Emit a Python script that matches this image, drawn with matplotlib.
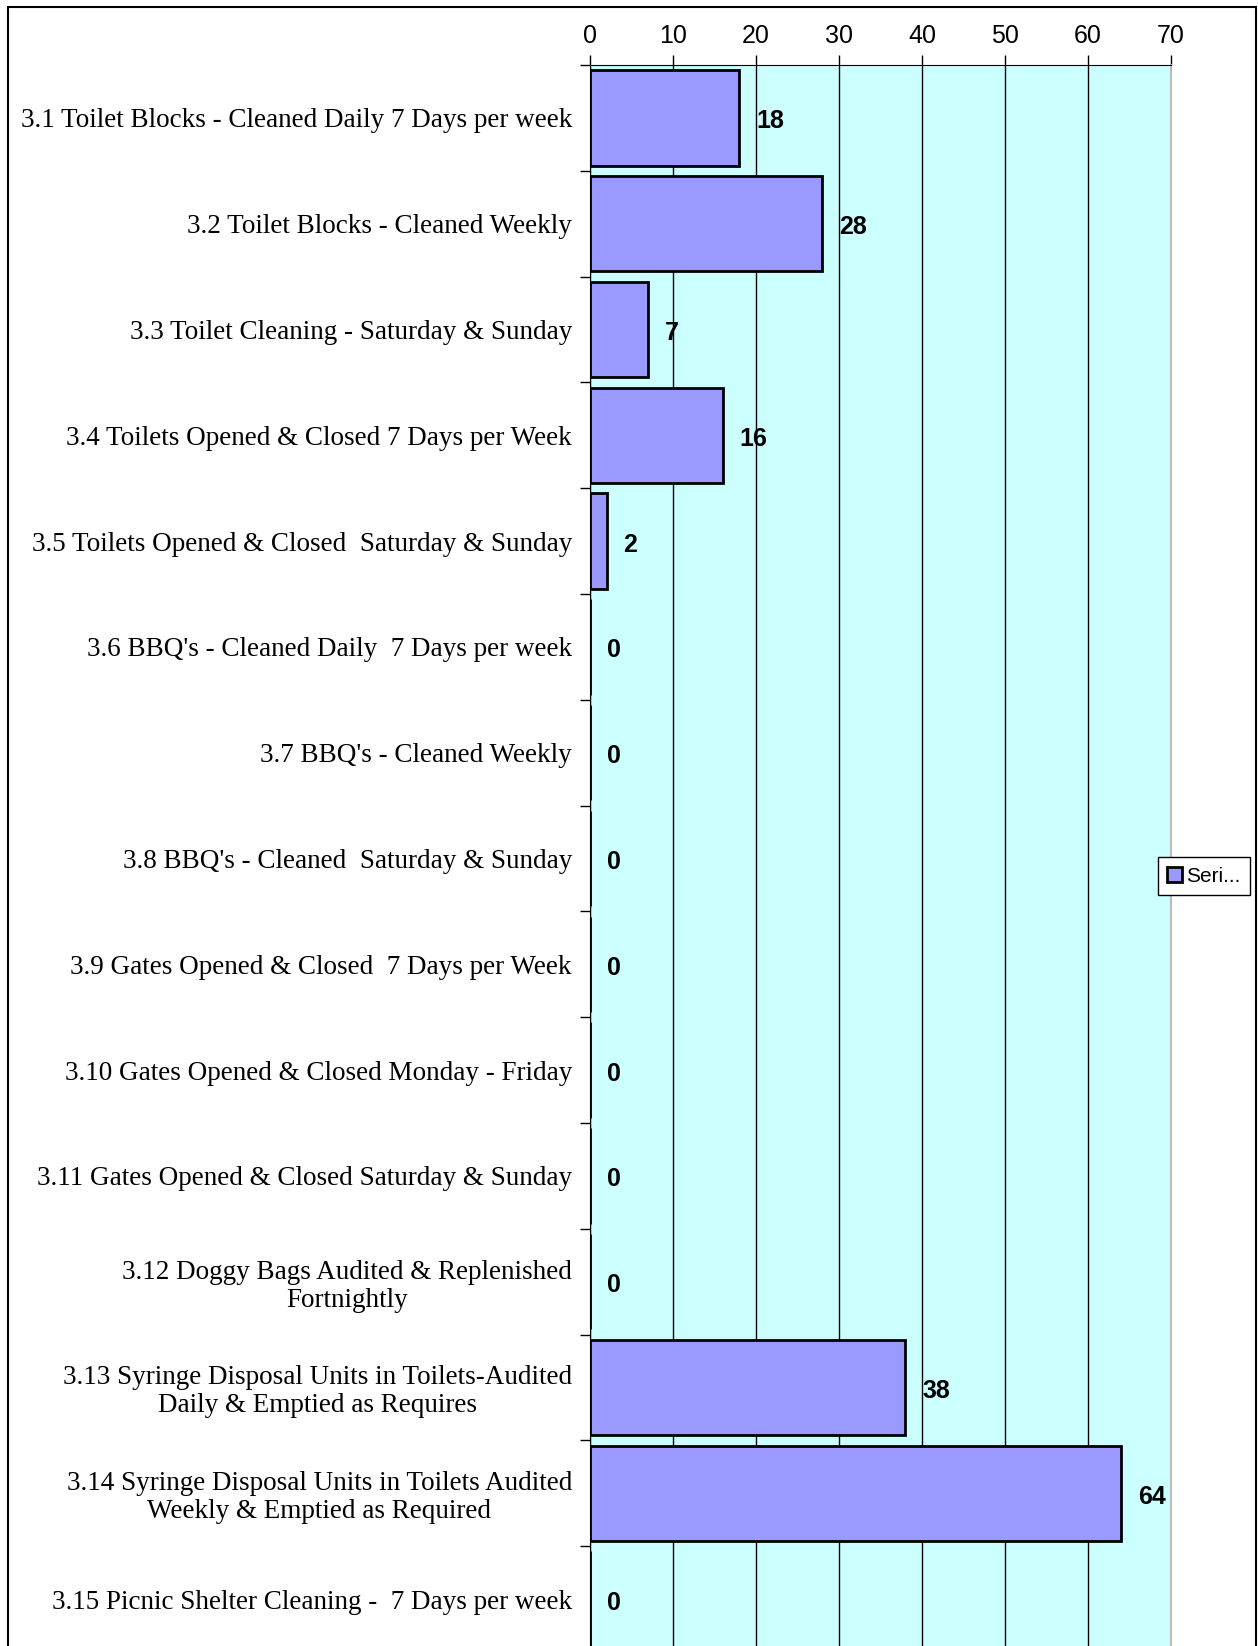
import matplotlib.pyplot as plt
from matplotlib.patches import Rectangle
from matplotlib.ticker import FixedLocator

categories = [
    "3.1 Toilet Blocks - Cleaned Daily 7 Days per week",
    "3.2 Toilet Blocks - Cleaned Weekly",
    "3.3 Toilet Cleaning - Saturday & Sunday",
    "3.4 Toilets Opened & Closed 7 Days per Week",
    "3.5 Toilets Opened & Closed  Saturday & Sunday",
    "3.6 BBQ's - Cleaned Daily  7 Days per week",
    "3.7 BBQ's - Cleaned Weekly",
    "3.8 BBQ's - Cleaned  Saturday & Sunday",
    "3.9 Gates Opened & Closed  7 Days per Week",
    "3.10 Gates Opened & Closed Monday - Friday",
    "3.11 Gates Opened & Closed Saturday & Sunday",
    "3.12 Doggy Bags Audited & Replenished\nFortnightly",
    "3.13 Syringe Disposal Units in Toilets-Audited\nDaily & Emptied as Requires",
    "3.14 Syringe Disposal Units in Toilets Audited\nWeekly & Emptied as Required",
    "3.15 Picnic Shelter Cleaning -  7 Days per week",
]
values = [18, 28, 7, 16, 2, 0, 0, 0, 0, 0, 0, 0, 38, 64, 0]
x_ticks = [0, 10, 20, 30, 40, 50, 60, 70]

W, H = 1258, 1646
fig = plt.figure(figsize=(W / 100, H / 100), dpi=100)
fig.patch.set_facecolor('white')

# plot area runs a little past the bottom of the image, like the original
left, right, top, bottom = 590, 1171, 65, 1652
ax = fig.add_axes([left / W, 1 - bottom / H, (right - left) / W, (bottom - top) / H])
ax.set_facecolor('#CCFFFF')

ypos = list(range(len(categories)))
bars = ax.barh(ypos, values, height=0.9, color='#9999FF', edgecolor='black',
               linewidth=2, zorder=3, label='Seri...')

for y, v in zip(ypos, values):
    ax.annotate(str(v), xy=(v, y), xytext=(12, -2.5), textcoords='offset points',
                ha='left', va='center', fontsize=18, fontweight='bold',
                family='Liberation Sans', zorder=4)

ax.set_xlim(0, 70)
ax.set_ylim(len(categories) - 0.5, -0.5)
ax.xaxis.tick_top()
ax.set_xticks(x_ticks)
ax.set_xticklabels([str(t) for t in x_ticks], fontsize=18, family='Liberation Sans')
ax.tick_params(axis='x', direction='out', length=7, width=1, color='black', pad=5)
ax.grid(axis='x', color='black', linewidth=1, zorder=1)

ax.set_yticks(ypos)
ax.set_yticklabels(categories, fontsize=19.5, family='Liberation Serif',
                   multialignment='center', linespacing=1.15)
ax.yaxis.set_minor_locator(FixedLocator([i + 0.5 for i in range(-1, len(categories))]))
ax.tick_params(axis='y', which='major', length=0, pad=13)
ax.tick_params(axis='y', which='minor', direction='out', length=7, width=1, color='black')

ax.spines['top'].set_color('black')
ax.spines['left'].set_color('black')
ax.spines['right'].set_color('#BBBBBB')
ax.spines['right'].set_linewidth(1.5)
ax.spines['bottom'].set_visible(False)

leg = fig.legend(handles=[bars], labels=['Seri...'], loc='center left',
                 bbox_to_anchor=(1158 / W, 1 - 876 / H),
                 prop={'family': 'Liberation Sans', 'size': 15},
                 handlelength=0.7, handleheight=0.7, handletextpad=0.2,
                 borderpad=0.45, borderaxespad=0, fancybox=False,
                 edgecolor='black', framealpha=1)
leg.get_frame().set_linewidth(1)

# outer chart border (bottom edge is cut off in the original)
fig.add_artist(Rectangle((8 / W, -0.05), (1256 - 8) / W, 1 - 7 / H + 0.05,
                         transform=fig.transFigure, fill=False,
                         edgecolor='black', linewidth=1.5))

fig.savefig('out.png', dpi=100)
